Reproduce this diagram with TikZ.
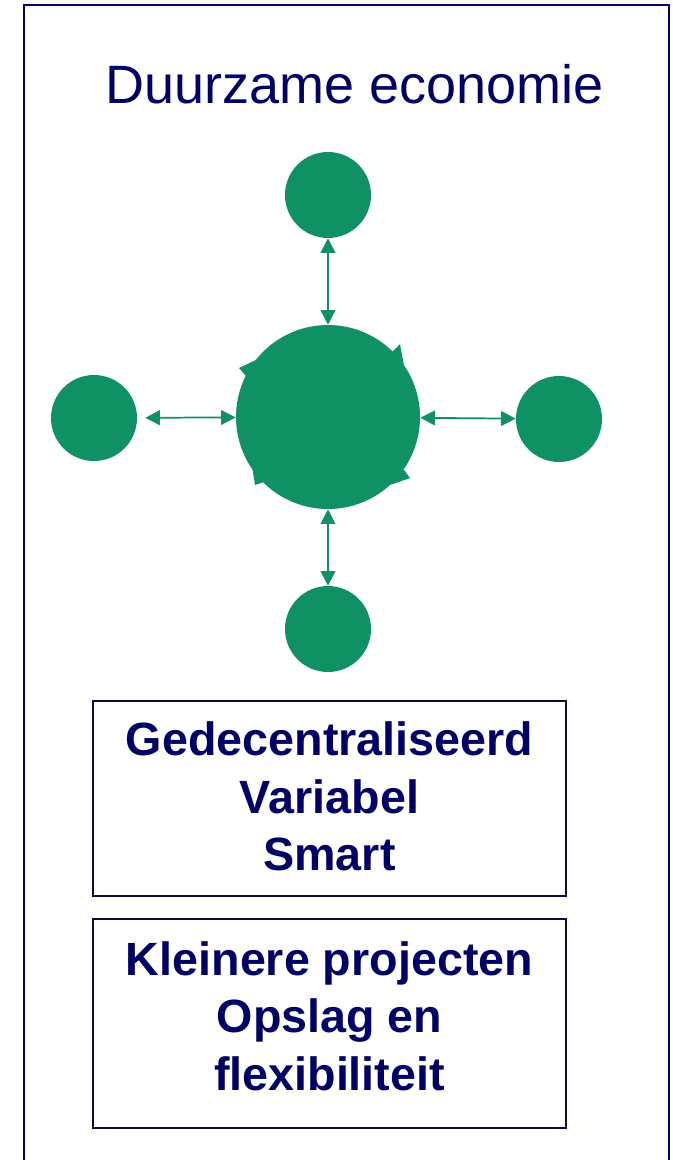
\documentclass[tikz,border=0pt]{standalone}
\usepackage{fontspec}
\setmainfont{Liberation Sans}
\usetikzlibrary{arrows.meta}
\definecolor{navy}{RGB}{0,0,102}
\definecolor{boxline}{RGB}{12,12,60}
\definecolor{leaf}{RGB}{15,145,100}
\tikzset{
  bubble/.style={circle, fill=leaf, draw=none, minimum size=64.5pt, inner sep=0pt},
  hub/.style={circle, fill=leaf, draw=none, minimum size=138pt, inner sep=0pt},
  spike/.style={fill=leaf, draw=none},
  link/.style={draw=leaf, line width=1.3pt, {Triangle[length=11pt,width=11pt]}-{Triangle[length=11pt,width=11pt]}},
  infobox/.style={draw=boxline, line width=1.5pt, minimum width=354.75pt, inner sep=0pt},
  infotext/.style={text=navy, font=\bfseries\fontsize{35}{43}\selectfont, align=center, inner sep=0pt},
  frame/.style={draw=navy, line width=1.4pt}
}
\begin{document}
\begin{tikzpicture}[x=0.75pt,y=-0.75pt]
\useasboundingbox (0,0) rectangle (672,1160);
\draw[frame] (24,1162) -- (24,5) -- (669,5) -- (669,1162);
\node[text=navy, font=\fontsize{40.5}{48}\selectfont, anchor=base] (title) at (355,103) {Duurzame economie};
% spikes around the hub
\fill[spike] (391,353) -- (400,344) -- (404,366) -- (385,366) -- cycle;
\fill[spike] (390,485) -- (410,478) -- (404,470) -- (393,470) -- cycle;
\fill[spike] (252,466) -- (255,485) -- (264,482) -- (266,470) -- cycle;
\fill[spike] (258,359) -- (239,368) -- (246,376) -- (262,373) -- cycle;
\node[hub] (c) at (328,417) {};
\node[bubble] (t) at (328,195) {};
\node[bubble] (l) at (94,418) {};
\node[bubble] (r) at (559,419) {};
\node[bubble] (b) at (328,629) {};
\draw[link] (t) -- (c);
\draw[link, shorten <=6pt] (l) -- (c);
\draw[link] (c) -- (r);
\draw[link] (c) -- (b);
\node[infobox, minimum height=146.25pt] (box1) at (329.5,798.5) {};
\node[infotext] (text1) at (329.5,796.5) {Gedecentraliseerd\\Variabel\\Smart};
\node[infobox, minimum height=156.75pt] (box2) at (329.5,1023.5) {};
\node[infotext] (text2) at (329.5,1016) {Kleinere projecten\\Opslag en\\flexibiliteit};
\end{tikzpicture}
\end{document}
